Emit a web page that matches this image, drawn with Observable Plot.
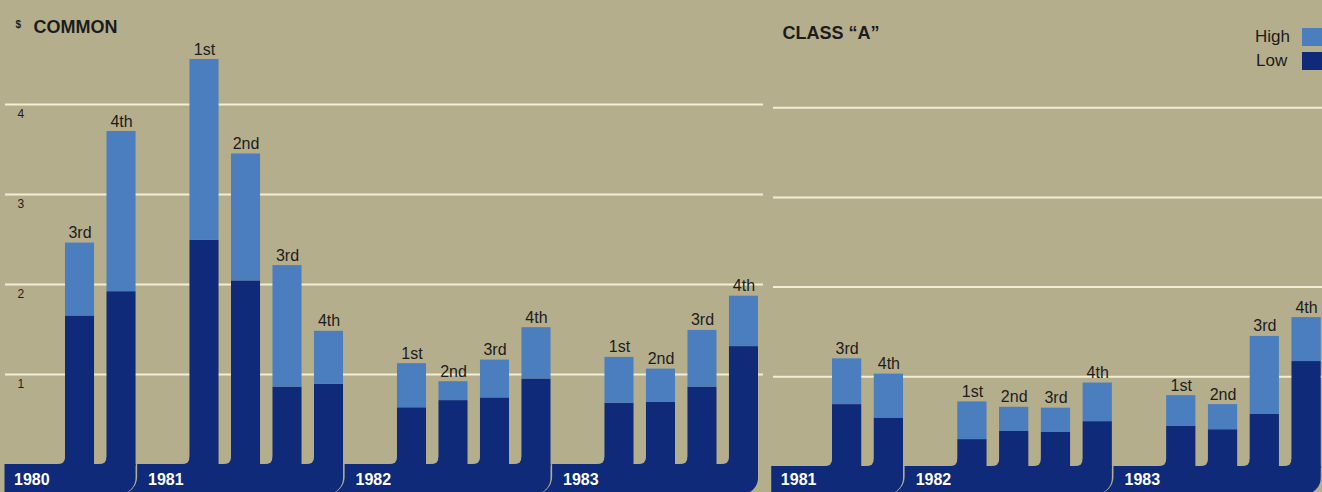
<!DOCTYPE html>
<html>
<head>
<meta charset="utf-8">
<script src="https://cdn.jsdelivr.net/npm/d3@7"></script>
<script src="https://cdn.jsdelivr.net/npm/@observablehq/plot@0.6"></script>
<style>
  html, body { margin: 0; padding: 0; background: #b5ae8d; }
  #wrap { position: relative; width: 1322px; height: 492px; overflow: hidden; display: flex; }
  #wrap svg { display: block; flex: none; }
  .leg { position: absolute; font-family: 'Liberation Sans', Arial, sans-serif; font-size: 17px; line-height: 20px; color: #1c1c1c; }
  .sw { position: absolute; width: 22px; height: 18px; }
</style>
</head>
<body>
<div id="wrap">
  <div class="leg" style="left:1255px; top:27px;">High</div>
  <div class="sw" style="left:1302px; top:28px; background:#4a7ebe;"></div>
  <div class="leg" style="left:1256px; top:51px;">Low</div>
  <div class="sw" style="left:1302px; top:52px; background:#0f2a78;"></div>
</div>
<script>
// ---- data (per-share price range, $) ----
const gridTicks = [1, 2, 3, 4];

const commonYears = ["1980", "1981", "1982", "1983"];
const commonBarYear = ["1980", "1980", "1981", "1981", "1981", "1981", "1982", "1982", "1982", "1982", "1983", "1983", "1983", "1983"];
const commonBarQuarter = ["3rd", "4th", "1st", "2nd", "3rd", "4th", "1st", "2nd", "3rd", "4th", "1st", "2nd", "3rd", "4th"];
const commonHigh = [2.46, 3.70, 4.50, 3.45, 2.21, 1.48, 1.12, 0.92, 1.16, 1.52, 1.19, 1.06, 1.49, 1.87];
const commonLow  = [1.65, 1.92, 2.49, 2.04, 0.86, 0.89, 0.63, 0.71, 0.74, 0.95, 0.68, 0.69, 0.86, 1.31];

const classAYears = ["1981", "1982", "1983"];
const classABarYear = ["1981", "1981", "1982", "1982", "1982", "1982", "1983", "1983", "1983", "1983"];
const classABarQuarter = ["3rd", "4th", "1st", "2nd", "3rd", "4th", "1st", "2nd", "3rd", "4th"];
const classAHigh = [1.20, 1.03, 0.72, 0.66, 0.65, 0.93, 0.79, 0.69, 1.45, 1.66];
const classALow  = [0.69, 0.54, 0.30, 0.39, 0.38, 0.50, 0.45, 0.41, 0.58, 1.17];

// ---- styles ----
const TAN = "#b5ae8d";
const NAVY = "#0f2a78";
const LIGHT = "#4a7ebe";
const GRID = "#f3eed6";
const INK = "#1c1c1c";
const FONT = "'Liberation Sans', Arial, Helvetica, sans-serif";
const H = 492;
const PAD = 0.3;

function panel(cfg) {
  const bars = cfg.barYear.map((y, i) => ({
    year: y, quarter: cfg.barQuarter[i], key: y + "-" + cfg.barQuarter[i],
    high: cfg.high[i], low: cfg.low[i]
  }));
  const domain = [];
  cfg.years.forEach(y => {
    domain.push("gap-" + y);
    bars.filter(b => b.year === y).forEach(b => domain.push(b.key));
  });
  const bands = cfg.years.map(y => ({
    year: y, start: "gap-" + y, end: bars.filter(b => b.year === y).at(-1).key
  }));
  const step = (cfg.width - cfg.marginLeft - cfg.marginRight) / (domain.length - PAD);
  const bw = step * (1 - PAD);
  const yDomain = [-(H - cfg.zeroY) / cfg.unitPx, cfg.zeroY / cfg.unitPx];
  const bottom = yDomain[0] - 2 / cfg.unitPx;

  const bandMarks = [];
  bands.slice().reverse().forEach(b => {
    const insetLeft = b === bands[0] ? -19 : -30;
    bandMarks.push(Plot.rect([b], {x1: "start", x2: "end", y1: () => bottom, y2: () => 0,
      fill: TAN, insetLeft, insetRight: -bw - 1.6, rx2y1: 17}));
    bandMarks.push(Plot.rect([b], {x1: "start", x2: "end", y1: () => bottom, y2: () => 0,
      fill: NAVY, insetLeft, insetRight: -bw, rx2y1: 16}));
  });

  const marks = [
    Plot.ruleY(gridTicks, {stroke: GRID, strokeWidth: 2,
      insetLeft: cfg.gridStart - cfg.marginLeft,
      insetRight: (cfg.width - cfg.marginRight) - cfg.gridEnd}),
    cfg.showTicks ? Plot.text(gridTicks, {y: d => d, text: d => String(d), frameAnchor: "left",
      dx: 17 - cfg.marginLeft, dy: 10, fontSize: 12, fill: INK}) : null,
    cfg.dollar ? Plot.text(["$"], {text: d => d, frameAnchor: "top-left", textAnchor: "start", lineAnchor: "top",
      dx: 15 - cfg.marginLeft, dy: 20, fontSize: 10, fontWeight: "bold", fill: INK}) : null,
    Plot.text([cfg.title], {text: d => d, frameAnchor: "top-left", textAnchor: "start", lineAnchor: "top",
      dx: cfg.titleX - cfg.marginLeft, dy: cfg.titleTop, fontSize: 18, fontWeight: "bold", fill: INK}),
    ...bandMarks,
    // concave fillet at the foot of each bar
    Plot.barY(bars, {x: "key", y1: () => 0, y2: () => 0, insetTop: -7, insetBottom: -2,
      insetLeft: -7, insetRight: bw - 1, fill: NAVY}),
    Plot.barY(bars, {x: "key", y1: () => 0, y2: () => 0, insetTop: -14, insetBottom: 0,
      insetLeft: -12, insetRight: bw, rx: 6, fill: TAN}),
    // low and high parts
    Plot.barY(bars, {x: "key", y1: () => 0, y2: "low", fill: NAVY, insetBottom: -2}),
    Plot.barY(bars, {x: "key", y1: "low", y2: "high", fill: LIGHT}),
    Plot.text(bars, {x: "key", y: "high", text: "quarter", dy: -5, lineAnchor: "bottom",
      fontSize: 16, fill: INK}),
    Plot.text(bands.slice(0, 1), {x: "start", text: "year", frameAnchor: "bottom", textAnchor: "start",
      lineAnchor: "bottom", dx: -24.5, dy: -8, fill: "white", fontWeight: "bold", fontSize: 16}),
    Plot.text(bands.slice(1), {x: "start", text: "year", frameAnchor: "bottom", textAnchor: "start",
      lineAnchor: "bottom", dx: -15, dy: -8, fill: "white", fontWeight: "bold", fontSize: 16})
  ].filter(Boolean);

  return Plot.plot({
    width: cfg.width, height: H,
    marginLeft: cfg.marginLeft, marginRight: cfg.marginRight, marginTop: 0, marginBottom: 0,
    x: {type: "band", domain, paddingInner: PAD, paddingOuter: 0, round: false, axis: null},
    y: {domain: yDomain, axis: null},
    style: {background: "transparent", fontFamily: FONT, overflow: "hidden"},
    marks
  });
}

const wrap = document.getElementById("wrap");
const left = panel({
  years: commonYears, barYear: commonBarYear, barQuarter: commonBarQuarter,
  high: commonHigh, low: commonLow,
  width: 766, marginLeft: 23.5, marginRight: 8, zeroY: 464, unitPx: 90,
  gridStart: 5, gridEnd: 763, showTicks: true, dollar: true,
  title: "COMMON", titleX: 33, titleTop: 20
});
const right = panel({
  years: classAYears, barYear: classABarYear, barQuarter: classABarQuarter,
  high: classAHigh, low: classALow,
  width: 556, marginLeft: 24.23, marginRight: 1.3, zeroY: 466, unitPx: 89.7,
  gridStart: 7, gridEnd: 556, showTicks: false, dollar: false,
  title: "CLASS \u201CA\u201D", titleX: 16, titleTop: 26
});
wrap.insertBefore(right, wrap.firstChild);
wrap.insertBefore(left, wrap.firstChild);
</script>
</body>
</html>
